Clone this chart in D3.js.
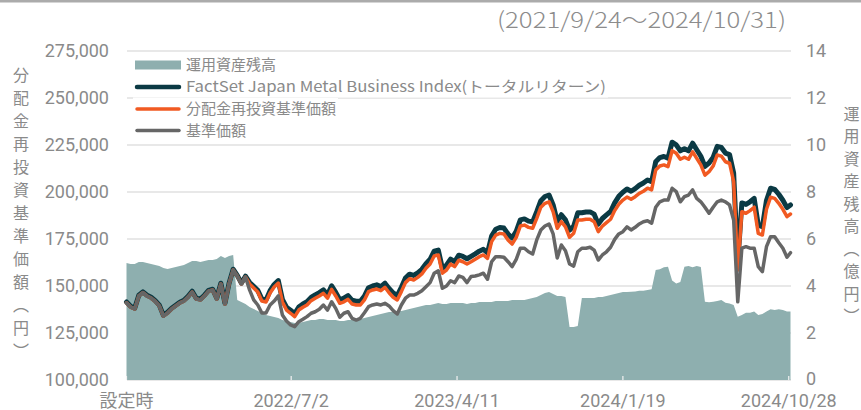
<!DOCTYPE html>
<html><head><meta charset="utf-8">
<script src="https://cdn.jsdelivr.net/npm/d3@7"></script>
<style>html,body{margin:0;padding:0;background:#fff;} svg{display:block;font-family:"Noto Sans CJK JP","Noto Sans",sans-serif;} .num{font-family:Roboto,"Noto Sans CJK JP",sans-serif;}</style>
</head><body><svg id="chart" width="861" height="410"></svg>
<script>
// ---- DATA (weekly readings, values in thousand yen / 億円) ----
const startDate = "2021-09-24";
const endDate = "2024-10-31";
const periodLabel = "(2021/9/24～2024/10/31)";
const xTickDates = ["2021-09-24","2022-07-02","2023-04-11","2024-01-19","2024-10-28"];
const xTickLabels = ["設定時","2022/7/2","2023/4/11","2024/1/19","2024/10/28"];
const leftTicks = [100000,125000,150000,175000,200000,225000,250000,275000];
const rightTicks = [0,2,4,6,8,10,12,14];
const leftTitle = "分配金再投資基準価額︵円︶";
const rightTitle = "運用資産残高︵億円︶";
const seriesNames = ["運用資産残高","FactSet Japan Metal Business Index(トータルリターン)","分配金再投資基準価額","基準価額"];

// 基準価額 (thousand yen)
const navK = [141.1,138.8,137.8,144.7,146.5,144.7,143.6,141.8,139.4,134.0,
 135.6,137.8,139.4,141.0,142.0,144.1,146.8,143.1,142.6,144.7,
 147.3,147.9,143.1,151.1,140.4,151.1,158.5,155.3,151.1,154.8,
 147.9,142.6,139.9,135.6,135.6,139.9,142.0,144.7,134.6,131.4,
 129.3,128.4,131.0,132.3,133.7,135.5,136.3,137.6,139.9,137.2,
 141.6,138.1,133.4,135.5,136.3,132.8,131.9,132.8,135.8,139.0,
 139.9,140.4,139.9,140.8,139.4,136.9,135.1,139.9,143.5,145.2,
 145.2,146.1,147.5,149.6,151.8,156.8,158.1,148.8,150.0,152.8,
 151.8,155.3,154.6,151.8,155.0,155.3,155.9,156.8,153.6,162.9,
 165.6,165.6,165.3,162.9,160.3,164.2,170.1,170.1,168.2,167.0,
 174.5,179.8,181.9,183.0,177.7,164.9,171.8,168.8,161.7,160.6,
 168.2,170.1,170.1,170.6,169.1,163.8,166.5,168.2,170.6,174.8,
 177.7,178.9,181.5,179.8,181.2,183.0,184.2,184.7,183.4,191.9,
 194.8,195.7,195.7,202.0,200.2,194.8,197.5,198.4,201.1,196.6,
 194.8,191.9,188.7,191.9,194.8,195.7,194.8,193.1,185.1,141.6,
 170.1,170.9,170.1,170.1,160.3,157.6,170.9,176.2,176.2,173.0,
 170.1,165.3,167.7];

// 分配金再投資基準価額 (thousand yen)
const reinvK = [141.1,138.8,137.8,144.7,146.5,144.7,143.6,141.8,139.4,134.0,
 135.6,137.8,139.4,141.0,142.0,144.1,146.8,143.1,142.6,144.7,
 147.3,147.9,143.1,151.1,140.4,151.1,158.5,155.3,151.1,154.8,
 151.1,148.9,146.8,142.0,141.5,146.3,149.5,151.6,141.5,137.2,
 135.5,133.7,137.2,138.7,139.9,142.2,143.5,144.7,146.1,143.5,
 148.2,144.7,140.8,141.6,142.9,140.4,139.9,139.9,142.6,147.0,
 147.9,148.4,147.5,149.3,146.4,144.0,142.6,147.0,151.8,153.9,
 153.2,154.6,156.4,159.4,161.7,166.0,166.5,156.8,158.5,161.7,
 160.3,163.7,162.9,161.7,162.9,164.2,165.6,166.5,164.7,173.6,
 177.1,178.0,177.7,174.5,172.3,175.9,181.9,182.4,181.2,180.7,
 186.0,191.9,194.0,194.8,189.5,180.7,184.2,181.5,175.9,178.0,
 185.1,185.1,185.5,185.5,184.2,178.9,181.9,183.7,185.5,190.1,
 193.5,195.7,197.3,196.1,197.5,199.3,200.4,202.0,201.1,211.7,
 213.8,214.4,213.5,222.0,220.6,217.4,218.5,217.4,221.4,217.9,
 214.4,209.0,210.8,213.8,219.7,219.1,216.1,215.3,205.5,158.5,
 189.5,188.7,190.1,191.9,178.0,177.1,190.8,197.2,196.6,194.0,
 190.8,186.9,188.3];

// FactSet Japan Metal Business Index (TR) (thousand yen basis)
const indexK = [141.5,139.2,138.2,145.1,146.9,145.1,144.0,142.2,139.8,134.4,
 136.0,138.2,139.8,141.4,142.4,144.5,147.2,143.5,143.0,145.1,
 147.7,148.3,143.5,151.5,140.8,151.5,158.9,155.7,151.5,155.2,
 151.9,149.8,147.7,143.0,142.6,147.5,150.8,152.9,142.9,138.7,
 137.1,135.3,138.8,140.4,141.6,143.9,145.3,146.5,147.9,145.3,
 150.1,146.6,142.7,143.5,144.9,142.4,141.9,141.9,144.6,149.1,
 150.0,150.6,149.7,151.5,148.7,146.3,144.9,149.3,154.2,156.3,
 155.6,157.0,158.9,161.9,164.2,168.5,169.1,159.4,161.1,164.3,
 163.0,166.4,165.7,164.5,165.8,167.1,168.5,169.5,167.7,176.6,
 180.2,181.1,180.8,177.7,175.5,179.1,185.2,185.7,184.5,184.1,
 189.5,195.4,197.6,198.4,193.1,184.4,187.9,185.2,179.7,181.8,
 188.9,189.0,189.4,189.4,188.2,182.9,185.9,187.8,189.6,194.2,
 197.7,199.9,201.6,200.4,201.8,203.6,204.8,206.4,205.5,216.1,
 218.3,218.9,218.0,226.5,225.1,221.9,223.0,221.9,226.0,222.5,
 219.0,213.6,215.4,218.4,224.3,223.7,220.7,219.9,210.1,162.1,
 194.2,193.4,194.8,196.6,182.4,181.5,195.5,202.0,201.4,198.8,
 195.6,191.7,193.1];

// 運用資産残高 (億円)
const aum = [4.98,4.94,4.94,5.02,5.02,4.98,4.94,4.89,4.85,4.77,
 4.72,4.77,4.81,4.85,4.89,4.98,5.06,5.06,5.02,5.06,
 5.11,5.11,5.15,5.28,5.19,5.28,5.32,3.40,3.32,3.23,
 3.11,3.02,2.94,2.85,2.77,2.72,2.68,2.64,2.55,2.51,
 2.47,2.43,2.43,2.47,2.51,2.55,2.55,2.60,2.60,2.55,
 2.55,2.55,2.51,2.51,2.55,2.55,2.55,2.60,2.64,2.68,
 2.72,2.77,2.81,2.85,2.89,2.89,2.94,2.94,2.98,3.02,
 3.06,3.11,3.15,3.19,3.19,3.23,3.28,3.23,3.23,3.28,
 3.28,3.28,3.28,3.23,3.28,3.28,3.32,3.32,3.32,3.32,
 3.36,3.36,3.36,3.36,3.40,3.40,3.40,3.40,3.45,3.49,
 3.53,3.62,3.70,3.74,3.66,3.57,3.57,3.53,2.26,2.26,
 2.30,3.49,3.49,3.49,3.49,3.53,3.53,3.57,3.62,3.66,
 3.70,3.74,3.74,3.76,3.77,3.80,3.80,3.83,3.86,4.68,
 4.71,4.80,4.82,4.23,4.11,4.17,4.82,4.85,4.80,4.85,
 4.81,3.33,3.31,3.33,3.36,3.40,3.29,3.26,3.19,2.69,
 2.77,2.86,2.86,2.91,2.77,2.81,2.91,3.01,2.98,3.01,
 2.98,2.91,2.91];

// ---- CHART ----
const W = 861, H = 410;
const C = {area:"#8eafaf", index:"#0b3a44", reinv:"#f15a22", nav:"#666666", grid:"#e0e0e0", text:"#8a8a8a"};
const svg = d3.select("#chart");
const parse = d3.utcParse("%Y-%m-%d");
const t0 = parse(startDate), t1 = parse(endDate);
const dates = navK.map((_, i) => i === navK.length - 1 ? t1 : d3.utcDay.offset(t0, 7 * i));
const rows = dates.map((d, i) => ({date: d, nav: navK[i] * 1000, reinv: reinvK[i] * 1000, idx: indexK[i] * 1000, aum: aum[i]}));

const x = d3.scaleUtc().domain([t0, t1]).range([126.5, 790.5]);
const yL = d3.scaleLinear().domain([100000, 275000]).range([380, 51]);
const yR = d3.scaleLinear().domain([0, 14]).range([380, 51]);

// top border
svg.append("rect").attr("x", 0).attr("y", 0).attr("width", W).attr("height", 2.5).attr("fill", "#ababab");

// gridlines
svg.append("g").selectAll("line").data(leftTicks).join("line")
  .attr("x1", 127).attr("x2", 791)
  .attr("y1", d => yL(d)).attr("y2", d => yL(d))
  .attr("stroke", C.grid).attr("stroke-width", 1.5);

// area (AUM)
svg.append("path").datum(rows)
  .attr("fill", C.area)
  .attr("d", d3.area().x(d => x(d.date)).y0(yR(0)).y1(d => yR(d.aum)));

// bottom tick marks
svg.append("g").selectAll("line").data(xTickDates).join("line")
  .attr("x1", d => x(parse(d))).attr("x2", d => x(parse(d)))
  .attr("y1", 376).attr("y2", 380)
  .attr("stroke", "#f2f2f2").attr("stroke-width", 1.2);

// lines
const mk = key => d3.line().x(d => x(d.date)).y(d => yL(d[key]));
const lineSpecs = [
  {key: "idx", color: C.index, w: 5},
  {key: "reinv", color: C.reinv, w: 3.5},
  {key: "nav", color: C.nav, w: 3.5}
];
lineSpecs.forEach(s => {
  svg.append("path").datum(rows)
    .attr("fill", "none").attr("stroke", s.color).attr("stroke-width", s.w)
    .attr("stroke-linejoin", "round").attr("stroke-linecap", "round")
    .attr("d", mk(s.key));
});

// left tick labels
svg.append("g").selectAll("text").data(leftTicks).join("text")
  .attr("class", "num")
  .attr("x", 109).attr("y", d => yL(d)).attr("dy", "0.35em")
  .attr("text-anchor", "end").attr("font-size", 18).attr("fill", C.text)
  .text(d => d3.format(",")(d));

// right tick labels
svg.append("g").selectAll("text").data(rightTicks).join("text")
  .attr("class", "num")
  .attr("x", 806).attr("y", d => yR(d) - (d === 0 ? 1 : 0)).attr("dy", "0.35em")
  .attr("text-anchor", "start").attr("font-size", 18).attr("fill", C.text)
  .text(d => d);

// x tick labels
svg.append("g").selectAll("text").data(xTickDates).join("text")
  .attr("class", "num")
  .attr("x", d => x(parse(d))).attr("y", 401).attr("dy", "0.35em")
  .attr("text-anchor", "middle").attr("font-size", 18).attr("fill", C.text)
  .text((d, i) => xTickLabels[i]);

// period label
svg.append("text").attr("x", 497).attr("y", 28)
  .attr("font-size", 22).attr("font-weight", 300).attr("fill", "#8c8c8c")
  .attr("textLength", 289).attr("lengthAdjust", "spacingAndGlyphs")
  .text(periodLabel);

// vertical axis titles
svg.append("g").selectAll("text").data(Array.from(leftTitle)).join("text")
  .attr("x", 21).attr("y", (d, i) => 75 + 23 * i).attr("dy", "0.35em")
  .attr("text-anchor", "middle").attr("font-size", 16).attr("fill", C.text)
  .text(d => d);
svg.append("g").selectAll("text").data(Array.from(rightTitle)).join("text")
  .attr("x", 851.5).attr("y", (d, i) => 114 + 22.5 * i).attr("dy", "0.35em")
  .attr("text-anchor", "middle").attr("font-size", 16).attr("fill", C.text)
  .text(d => d);

// legend
const legY = [65, 87, 109, 130.5];
const legTypes = [{t: "rect", c: C.area}, {t: "line", c: C.index, w: 4.5}, {t: "line", c: C.reinv, w: 3.5}, {t: "line", c: C.nav, w: 3.5}];
seriesNames.forEach((name, i) => {
  const g = svg.append("g");
  const bg = g.append("rect").attr("x", 133).attr("y", legY[i] - 11).attr("height", 21.5).attr("fill", "#fff");
  const lt = legTypes[i];
  if (lt.t === "rect") {
    g.append("rect").attr("x", 135).attr("y", legY[i] - 4.5).attr("width", 46).attr("height", 9).attr("fill", lt.c);
  } else {
    g.append("line").attr("x1", 137).attr("x2", 179).attr("y1", legY[i]).attr("y2", legY[i])
      .attr("stroke", lt.c).attr("stroke-width", lt.w).attr("stroke-linecap", "round");
  }
  const tx = g.append("text").attr("x", 186).attr("y", legY[i]).attr("dy", "0.35em")
    .attr("font-size", 15).attr("fill", C.text).text(name);
  if (i === 1) tx.attr("textLength", 420).attr("lengthAdjust", "spacingAndGlyphs");
  bg.attr("width", 186 - 133 + tx.node().getComputedTextLength() + 2);
});
</script></body></html>
